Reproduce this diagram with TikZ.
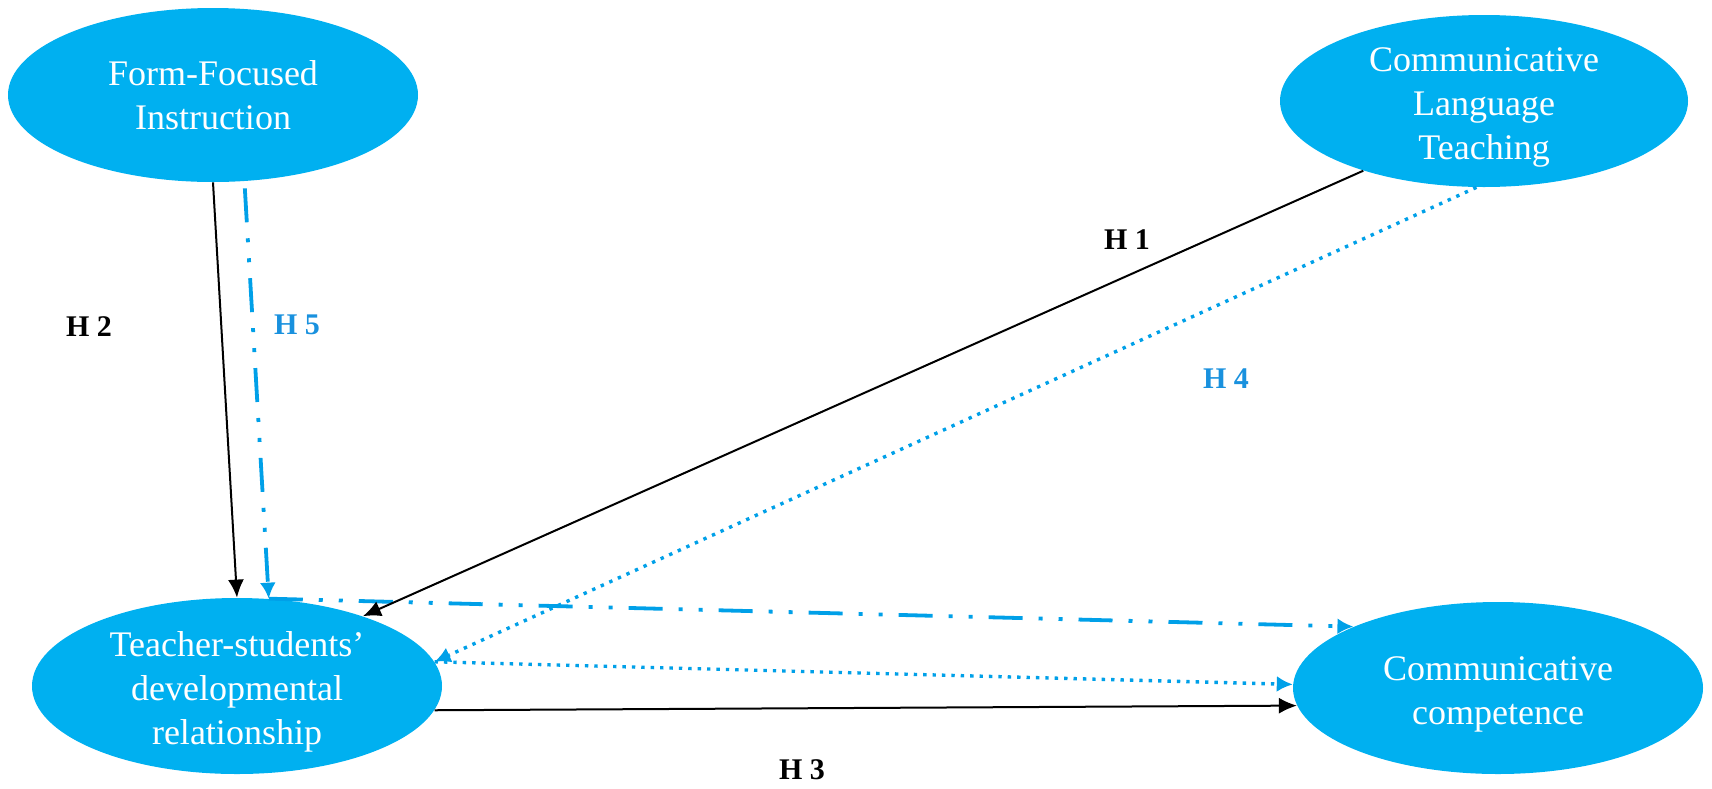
\documentclass[tikz,border=0pt]{standalone}
\usepackage{fontspec}
\setmainfont{Liberation Serif}
\usetikzlibrary{shapes.geometric,arrows.meta}
\definecolor{cfill}{RGB}{0,176,240}
\definecolor{cline}{RGB}{0,160,232}
\definecolor{clabel}{RGB}{25,145,222}
\begin{document}
\begin{tikzpicture}[x=0.5pt,y=-0.5pt,
 concept/.style={ellipse, fill=cfill, text=white, inner sep=-8pt, align=center, font=\fontsize{18}{22}\selectfont},
 blackarrow/.style={draw=black, line width=1pt, -{Latex[length=9pt,width=8pt]}},
 dashdotarrow/.style={draw=cline, line width=1.9pt, dash pattern=on 17pt off 8pt on 2pt off 8pt on 2pt off 8pt, -{Latex[length=8pt,width=8pt]}},
 dotarrow/.style={draw=cline, line width=1.7pt, dash pattern=on 1.7pt off 3pt, -{Latex[length=8pt,width=8pt]}},
 hlabel/.style={font=\fontsize{15}{18}\selectfont\bfseries},
]
\useasboundingbox (0,0) rectangle (1712,788);
\node[concept, minimum width=205pt, minimum height=87pt] (ffi) at (213,95) {Form-Focused\\Instruction};
\node[concept, minimum width=204pt, minimum height=86pt] (clt) at (1484,101) {\rule{0pt}{18pt}Communicative\\Language\\Teaching};
\node[concept, minimum width=205pt, minimum height=88pt] (tsdr) at (237,686) {\rule{0pt}{18pt}Teacher-students’\\developmental\\relationship};
\node[concept, minimum width=205pt, minimum height=86pt] (cc) at (1498,688) {\rule{0pt}{18pt}Communicative\\competence};

\draw[blackarrow] (ffi.south) -- (tsdr.north);
\draw[dashdotarrow, shorten <=3.5pt] (ffi.-70) -- (tsdr.70);
\draw[dashdotarrow] (tsdr.70) -- (cc.157);
\draw[blackarrow] (clt.210) -- (tsdr.29);
\draw[dotarrow] (clt.265) -- (tsdr.7);
\draw[dotarrow] (tsdr.7) -- (cc.179);
\draw[blackarrow] (tsdr.-7) -- (cc.185);

\node[hlabel] (h1) at (1127,240) {H 1};
\node[hlabel] (h2) at (89,327) {H 2};
\node[hlabel, text=clabel] (h5) at (297,325) {H 5};
\node[hlabel, text=clabel] (h4) at (1226,379) {H 4};
\node[hlabel] (h3) at (802,770) {H 3};
\end{tikzpicture}
\end{document}
